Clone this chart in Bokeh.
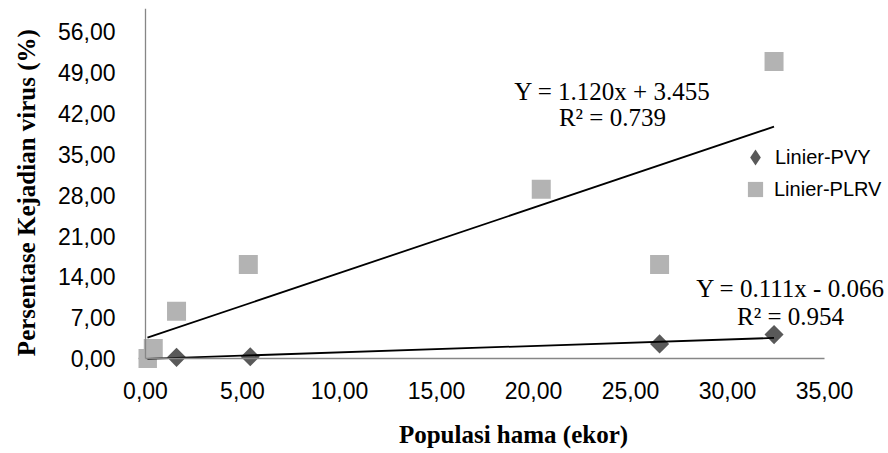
import math
from bokeh.plotting import figure
from bokeh.models import Range1d, FixedTicker, Legend, LegendItem, ColumnDataSource, LinearAxis
from bokeh.core.properties import value
from bokeh.embed import file_html
from bokeh.resources import INLINE

# ---- data ----
series_names = ["Linier-PVY", "Linier-PLRV"]
pvy_x = [0.1, 1.6, 5.4, 26.5, 32.4]
pvy_y = [0.0, 0.2, 0.3, 2.5, 4.1]
plrv_x = [0.1, 0.4, 1.6, 5.3, 20.4, 26.5, 32.4]
plrv_y = [0.0, 1.7, 8.1, 16.1, 29.0, 16.1, 50.9]
pvy_slope, pvy_icpt, pvy_r2 = 0.111, -0.066, 0.954
plrv_slope, plrv_icpt, plrv_r2 = 1.120, 3.455, 0.739
x_ticks = [0, 5, 10, 15, 20, 25, 30, 35]
x_tick_labels = ["0,00", "5,00", "10,00", "15,00", "20,00", "25,00", "30,00", "35,00"]
y_ticks = [0, 7, 14, 21, 28, 35, 42, 49, 56]
y_tick_labels = ["0,00", "7,00", "14,00", "21,00", "28,00", "35,00", "42,00", "49,00", "56,00"]
y_axis_max = 60
x_title = "Populasi hama (ekor)"
y_title = "Persentase Kejadian  virus (%)"

SANS = "Liberation Sans"
SERIF = "Liberation Serif"
PVY_COLOR = "#595959"
PLRV_COLOR = "#b3b3b3"
AXIS_COLOR = "#868686"

p = figure(frame_width=750, frame_height=362,
           min_border_left=138, min_border_right=0, min_border_top=8, min_border_bottom=83,
           x_range=Range1d(-0.3608, 38.30), y_range=Range1d(-2.057, 60.0),
           output_backend="svg", toolbar_location=None)
p.outline_line_color = None
p.grid.grid_line_color = None
p.background_fill_color = "white"
p.border_fill_color = "white"

# labelled axes (at the frame edges, line hidden)
for ax in (p.xaxis[0], p.yaxis[0]):
    ax.axis_line_color = None
    ax.major_tick_line_color = None
    ax.minor_tick_line_color = None
    ax.major_label_text_font = SANS
    ax.major_label_text_font_size = "23px"
    ax.major_label_text_color = "#000000"
    ax.axis_label_text_font = SERIF
    ax.axis_label_text_font_style = "bold"
    ax.axis_label_text_font_size = "25px"
    ax.axis_label_text_color = "#000000"

p.xaxis[0].ticker = FixedTicker(ticks=x_ticks)
p.xaxis[0].major_label_overrides = dict(zip(x_ticks, x_tick_labels))
p.xaxis[0].major_label_standoff = 5
p.xaxis[0].axis_label = x_title
p.xaxis[0].axis_label_standoff = 19

p.yaxis[0].ticker = FixedTicker(ticks=y_ticks)
p.yaxis[0].major_label_overrides = dict(zip(y_ticks, y_tick_labels))
p.yaxis[0].major_label_standoff = 17
p.yaxis[0].axis_label = y_title
p.yaxis[0].axis_label_standoff = 15

# axis lines crossing at zero
for side, bounds in (("below", (x_ticks[0], x_ticks[-1])), ("left", (0, y_axis_max))):
    line_ax = LinearAxis(fixed_location=0, bounds=bounds, ticker=FixedTicker(ticks=[]),
                         axis_line_color=AXIS_COLOR, axis_line_width=1.3,
                         major_tick_line_color=None, minor_tick_line_color=None,
                         major_label_text_font_size="0px", major_label_standoff=0)
    p.add_layout(line_ax, side)

# points
p.scatter(pvy_x, pvy_y, marker="square", angle=math.pi / 4, size=13.5,
          fill_color=PVY_COLOR, line_color=None)
p.scatter(plrv_x, plrv_y, marker="square", size=19,
          fill_color=PLRV_COLOR, line_color=None)

# trend lines over the x-range of each series
for xs, m, b in ((pvy_x, pvy_slope, pvy_icpt), (plrv_x, plrv_slope, plrv_icpt)):
    x0, x1 = min(xs), max(xs)
    p.line([x0, x1], [m * x0 + b, m * x1 + b], line_color="black", line_width=1.8)

# equations
def eq(m, b):
    sign = "+" if b >= 0 else "-"
    return f"Y = {m:.3f}x {sign} {abs(b):.3f}"

eq_src = ColumnDataSource(dict(
    x=[24.07, 24.07, 33.25, 33.25],
    y=[45.8, 41.3, 12.0, 7.2],
    t=[eq(plrv_slope, plrv_icpt), f"R² = {plrv_r2:.3f}", eq(pvy_slope, pvy_icpt), f"R² = {pvy_r2:.3f}"],
))
p.text(x="x", y="y", text="t", source=eq_src, text_font=value(SERIF), text_font_size="25px",
       text_align="center", text_baseline="middle", text_color="#000000")

# legend (legend-only renderers, nothing drawn in the plot); one box per entry
nan = float("nan")
leg_pvy = p.scatter([nan], [nan], marker="diamond", fill_color=PVY_COLOR, line_color=None)
leg_plrv = p.scatter([nan], [nan], marker="square", fill_color=PLRV_COLOR, line_color=None)
for name, rend, box, loc in ((series_names[0], leg_pvy, 40, (597, 193)),
                             (series_names[1], leg_plrv, 38, (598, 162))):
    lg = Legend(items=[LegendItem(label=name, renderers=[rend])],
                location=loc, orientation="vertical",
                glyph_width=box, glyph_height=box, spacing=0, label_standoff=0,
                padding=0, margin=0, border_line_color=None, background_fill_alpha=0,
                label_text_font=SANS, label_text_font_size="20px", label_text_color="#000000")
    p.add_layout(lg)

open("out.html", "w").write(file_html(p, INLINE))
